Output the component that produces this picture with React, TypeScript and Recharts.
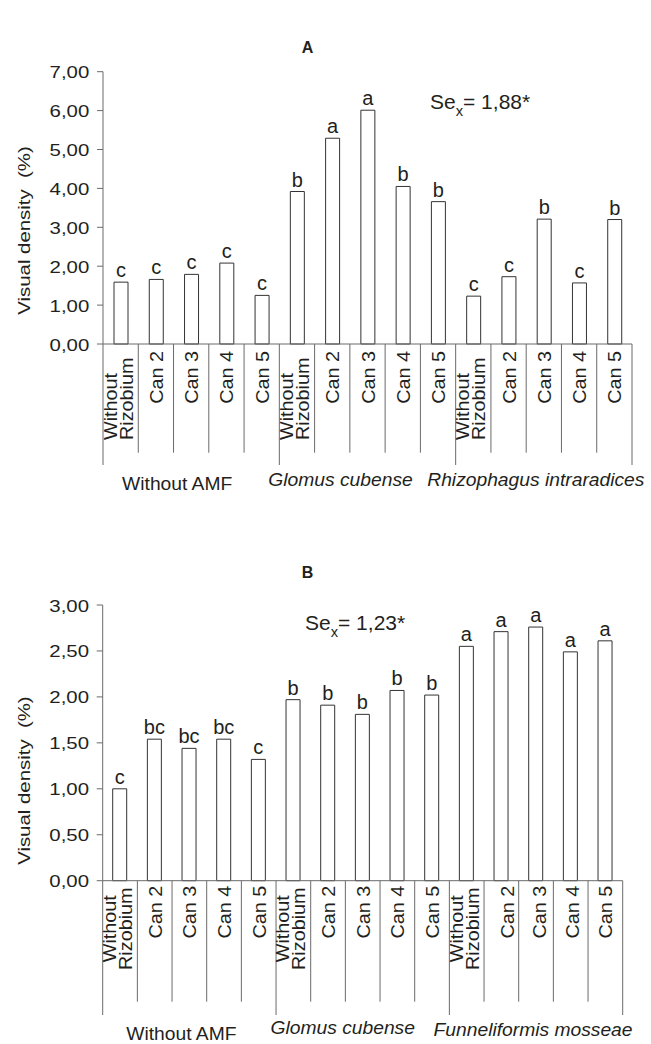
import React from 'react';
import { BarChart, Bar, XAxis, YAxis, LabelList } from 'recharts';

const categories = [
  'Without Rizobium', 'Can 2', 'Can 3', 'Can 4', 'Can 5',
  'Without Rizobium', 'Can 2', 'Can 3', 'Can 4', 'Can 5',
  'Without Rizobium', 'Can 2', 'Can 3', 'Can 4', 'Can 5',
];
const groupsA = ['Without AMF', 'Glomus cubense', 'Rhizophagus intraradices'];
const groupsB = ['Without AMF', 'Glomus cubense', 'Funneliformis mosseae'];
const valuesA = [1.59, 1.66, 1.79, 2.08, 1.25, 3.92, 5.29, 6.01, 4.05, 3.66, 1.23, 1.73, 3.21, 1.57, 3.2];
const lettersA = ['c', 'c', 'c', 'c', 'c', 'b', 'a', 'a', 'b', 'b', 'c', 'c', 'b', 'c', 'b'];
const valuesB = [1.0, 1.54, 1.44, 1.54, 1.32, 1.97, 1.91, 1.81, 2.07, 2.02, 2.55, 2.71, 2.76, 2.49, 2.61];
const lettersB = ['c', 'bc', 'bc', 'bc', 'c', 'b', 'b', 'b', 'b', 'b', 'a', 'a', 'a', 'a', 'a'];
const ticksA = [0, 1, 2, 3, 4, 5, 6, 7];
const ticksB = [0, 0.5, 1, 1.5, 2, 2.5, 3];
const seA = '1,88*';
const seB = '1,23*';

const FONT = '"Liberation Sans", Arial, Helvetica, sans-serif';
const TXT = '#231f20';
const AXIS = '#6a6a6a';

const dataA = categories.map((c, i) => ({ cat: c + '#' + i, name: c, value: valuesA[i], letter: lettersA[i] }));
const dataB = categories.map((c, i) => ({ cat: c + '#' + i, name: c, value: valuesB[i], letter: lettersB[i] }));

const fmt = (v: number) => v.toFixed(2).replace('.', ',');

const YTick = (props: any) => {
  const { x, y, payload } = props;
  return (
    <text
      transform={`translate(${x - 7.7},${y + 6.5}) scale(1.2,1)`}
      textAnchor="end"
      fontFamily={FONT}
      fontSize={17}
      fill={TXT}
    >
      {fmt(payload.value)}
    </text>
  );
};

type XCfg = {
  step: number;
  shortLen: number;
  longLen: number;
  groups: string[];
  groupOffsets: number[];
  groupBaselines: number[];
  twoLineMode: 'bottom' | 'middle';
  canTop: number;
  canOffsets?: number[];
};

const makeXTick = (cfg: XCfg) => (props: any) => {
  const { x, y, index } = props;
  const name = categories[index];
  const left = x - cfg.step / 2;
  const isGroupStart = index % 5 === 0;
  const fs = 18;
  const sx = 1.1;
  const els: any[] = [];
  els.push(
    <line key="l" x1={left} x2={left} y1={y} y2={y + (isGroupStart ? cfg.longLen : cfg.shortLen)} stroke={AXIS} strokeWidth={1} />
  );
  if (index === categories.length - 1) {
    const right = x + cfg.step / 2;
    els.push(<line key="r" x1={right} x2={right} y1={y} y2={y + cfg.longLen} stroke={AXIS} strokeWidth={1} />);
  }
  if (name === 'Without Rizobium') {
    const parts = ['Without', 'Rizobium'];
    parts.forEach((p, k) => {
      const bx = x - 2 + (k === 0 ? -1 : 1) * 8 + 6;
      if (cfg.twoLineMode === 'bottom') {
        els.push(
          <text key={'w' + k} transform={`translate(${bx},${y + 96}) rotate(-90) scale(${sx},1)`} textAnchor="start" fontFamily={FONT} fontSize={fs} fill={TXT}>{p}</text>
        );
      } else {
        els.push(
          <text key={'w' + k} transform={`translate(${bx},${y + 48}) rotate(-90) scale(${sx},1)`} textAnchor="middle" fontFamily={FONT} fontSize={fs} fill={TXT}>{p}</text>
        );
      }
    });
  } else {
    const off = cfg.canOffsets ? cfg.canOffsets[index] : 0;
    els.push(
      <text key="c" transform={`translate(${x + 7 + off},${y + cfg.canTop}) rotate(-90) scale(${sx},1)`} textAnchor="end" fontFamily={FONT} fontSize={fs} fill={TXT}>{name}</text>
    );
  }
  if (index % 5 === 2) {
    const g = Math.floor(index / 5);
    els.push(
      <text
        key="g"
        transform={`translate(${x + cfg.groupOffsets[g]},${y + cfg.groupBaselines[g]}) scale(1.07,1)`}
        textAnchor="middle"
        fontFamily={FONT}
        fontSize={18}
        fontStyle={g === 0 ? 'normal' : 'italic'}
        fill={TXT}
      >
        {cfg.groups[g]}
      </text>
    );
  }
  return <g>{els}</g>;
};

const BarLetter = (props: any) => {
  const { x, y, width, value } = props;
  return (
    <text x={x + width / 2} y={y - 5} textAnchor="middle" fontFamily={FONT} fontSize={20} fill={TXT}>
      {value}
    </text>
  );
};

const CHART_H = 522;

const xCfgA: XCfg = {
  step: (632 - 103) / 15,
  shortLen: 108.7,
  longLen: 121,
  groups: groupsA,
  groupOffsets: [-14, -27, -8],
  groupBaselines: [146, 142, 142],
  twoLineMode: 'bottom',
  canTop: 7,
};

const xCfgB: XCfg = {
  step: (622.7 - 102.7) / 15,
  shortLen: 121,
  longLen: 134.3,
  groups: groupsB,
  groupOffsets: [-8, -20, -3],
  groupBaselines: [159, 153, 155],
  twoLineMode: 'middle',
  canTop: 5,
  canOffsets: [0, 0, 0, 0, 0, 0, 0, 0, 0, 0, 0, 6, 3, 1, 0],
};

const XTickA = makeXTick(xCfgA);
const XTickB = makeXTick(xCfgB);

export default function App() {
  return (
    <div style={{ position: 'absolute', left: 0, top: 0, width: 651, height: 1044, background: '#fff' }}>
      <div style={{ position: 'absolute', left: 0, top: 0 }}>
        <BarChart
          width={651}
          height={CHART_H}
          data={dataA}
          margin={{ top: 71.7, right: 19, left: 43, bottom: CHART_H - 344 - 30 }}
        >
          <XAxis
            dataKey="cat"
            interval={0}
            height={30}
            tickSize={0}
            tickMargin={0}
            tickLine={false}
            axisLine={{ stroke: AXIS, strokeWidth: 1 }}
            tick={XTickA}
          />
          <YAxis
            width={60}
            domain={[0, 7]}
            ticks={ticksA}
            interval={0}
            tickSize={6}
            tickMargin={0}
            axisLine={{ stroke: AXIS, strokeWidth: 1 }}
            tickLine={{ stroke: AXIS, strokeWidth: 1 }}
            tick={YTick}
          />
          <Bar dataKey="value" barSize={14} fill="#ffffff" stroke="#333333" strokeWidth={1} isAnimationActive={false}>
            <LabelList dataKey="letter" content={BarLetter} />
          </Bar>
        </BarChart>
      </div>
      <div style={{ position: 'absolute', left: 0, top: CHART_H }}>
        <BarChart
          width={651}
          height={CHART_H}
          data={dataB}
          margin={{ top: 605 - CHART_H, right: 28.3, left: 42.7, bottom: CHART_H - (880.7 - CHART_H) - 30 }}
        >
          <XAxis
            dataKey="cat"
            interval={0}
            height={30}
            tickSize={0}
            tickMargin={0}
            tickLine={false}
            axisLine={{ stroke: AXIS, strokeWidth: 1 }}
            tick={XTickB}
          />
          <YAxis
            width={60}
            domain={[0, 3]}
            ticks={ticksB}
            interval={0}
            tickSize={6}
            tickMargin={0}
            axisLine={{ stroke: AXIS, strokeWidth: 1 }}
            tickLine={{ stroke: AXIS, strokeWidth: 1 }}
            tick={YTick}
          />
          <Bar dataKey="value" barSize={14} fill="#ffffff" stroke="#333333" strokeWidth={1} isAnimationActive={false}>
            <LabelList dataKey="letter" content={BarLetter} />
          </Bar>
        </BarChart>
      </div>
      <svg width={651} height={1044} style={{ position: 'absolute', left: 0, top: 0, pointerEvents: 'none' }}>
        <text x={307.5} y={53} textAnchor="middle" fontFamily={FONT} fontWeight="bold" fontSize={16} fill={TXT}>A</text>
        <text x={307.5} y={578} textAnchor="middle" fontFamily={FONT} fontWeight="bold" fontSize={16} fill={TXT}>B</text>
        <text transform="translate(29.5,230.5) rotate(-90) scale(1.2,1)" textAnchor="middle" fontFamily={FONT} fontSize={17} fill={TXT} style={{ whiteSpace: 'pre' }}>
          {'Visual density  (%)'}
        </text>
        <text transform="translate(29.5,780.6) rotate(-90) scale(1.2,1)" textAnchor="middle" fontFamily={FONT} fontSize={17} fill={TXT} style={{ whiteSpace: 'pre' }}>
          {'Visual density  (%)'}
        </text>
        <text transform="translate(430,109) scale(1.05,1)" fontFamily={FONT} fontSize={20} fill={TXT} style={{ whiteSpace: 'pre' }}>
          <tspan>Se</tspan>
          <tspan dy={7} fontSize={14}>x</tspan>
          <tspan dy={-7}>= {seA}</tspan>
        </text>
        <text transform="translate(305,630) scale(1.05,1)" fontFamily={FONT} fontSize={20} fill={TXT} style={{ whiteSpace: 'pre' }}>
          <tspan>Se</tspan>
          <tspan dy={7} fontSize={14}>x</tspan>
          <tspan dy={-7}>= {seB}</tspan>
        </text>
      </svg>
    </div>
  );
}
